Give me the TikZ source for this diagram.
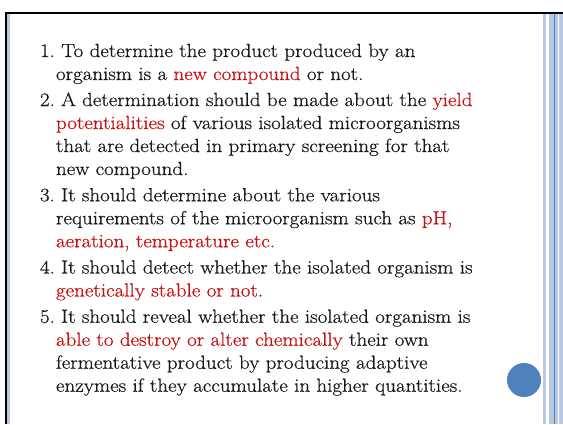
\documentclass[tikz,border=0pt]{standalone}
\usepackage{fontspec}
\setmainfont{Latin Modern Roman}[FakeStretch=1.105,FakeBold=0.6]
\usepackage{xcolor}
\definecolor{stripe}{RGB}{185,201,226}
\definecolor{accent}{RGB}{79,129,189}
\definecolor{hl}{RGB}{200,16,16}
\newcommand{\hlt}[1]{\textcolor{hl}{#1}}
\begin{document}
\begin{tikzpicture}[x=1pt,y=-1pt,
  txt/.style={anchor=base west,inner sep=0pt,outer sep=0pt,font=\fontsize{19}{23}\selectfont\frenchspacing,text=black!90}]
\useasboundingbox[fill=white] (0,0) rectangle (563,424);
% right stripes
\fill[stripe] (542.7,13.5) rectangle (545.7,424);
\fill[stripe] (549,13.5) rectangle (558,424);
\fill[stripe] (559,13.5) rectangle (563,424);
\fill[accent] (553.7,13.5) rectangle (555,424);
% left strip
\fill[stripe] (7.2,13.5) rectangle (10,424);
% black frame lines
\draw[line width=1.8pt] (5.8,424) -- (5.8,12.9) -- (563,12.9);
% circle
\fill[accent] (524,380) circle (17);
% text
\node[txt] (l1) at (40,57) {1. To determine the product produced by an};
\node[txt] (l2) at (56,80) {organism is a \hlt{new compound} or not.};
\node[txt] (l3) at (40,106) {2. A determination should be made about the \hlt{yield}};
\node[txt] (l4) at (56,129) {\hlt{potentialities} of various isolated microorganisms};
\node[txt] (l5) at (56,152) {that are detected in primary screening for that};
\node[txt] (l6) at (56,175) {new compound.};
\node[txt] (l7) at (40,201.25) {3. It should determine about the various};
\node[txt] (l8) at (56,224.25) {requirements of the microorganism such as \hlt{pH,}};
\node[txt] (l9) at (56,247.25) {\hlt{aeration, temperature etc.}};
\node[txt] (l10) at (40,273.5) {4. It should detect whether the isolated organism is};
\node[txt] (l11) at (56,296.5) {\hlt{genetically stable or not}.};
\node[txt] (l12) at (40,322.75) {5. It should reveal whether the isolated organism is};
\node[txt] (l13) at (56,345.75) {\hlt{able to destroy or alter chemically} their own};
\node[txt] (l14) at (56,368.75) {fermentative product by producing adaptive};
\node[txt] (l15) at (56,391.75) {enzymes if they accumulate in higher quantities.};
\end{tikzpicture}
\end{document}
